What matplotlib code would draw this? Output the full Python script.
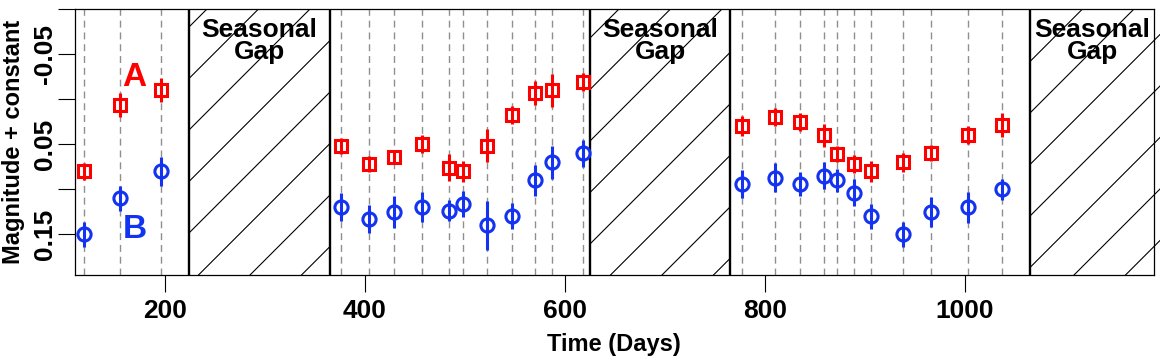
import numpy as np
import matplotlib
matplotlib.use("Agg")
import matplotlib.pyplot as plt
from matplotlib.collections import LineCollection
from matplotlib.transforms import IdentityTransform

# ---------------- data ----------------
epochs = [119, 155, 196,
          376, 404, 429, 457, 484, 498, 522, 547, 570, 587, 618,
          777, 810, 835, 859, 872, 889, 906, 938, 966, 1003, 1037]

mag_A = [0.080, 0.006, -0.010,
         0.0515, 0.072, 0.064, 0.050, 0.076, 0.080, 0.0515, 0.017, -0.007, -0.010, -0.0195,
         0.030, 0.020, 0.0255, 0.040, 0.061, 0.072, 0.080, 0.070, 0.060, 0.040, 0.0285]
err_A = [0.0094, 0.0133, 0.0133,
         0.009, 0.009, 0.008, 0.010, 0.015, 0.012, 0.018, 0.010, 0.013, 0.018, 0.010,
         0.011, 0.010, 0.010, 0.013, 0.009, 0.010, 0.012, 0.0105, 0.009, 0.010, 0.013]

mag_B = [0.150, 0.110, 0.080,
         0.120, 0.133, 0.125, 0.120, 0.124, 0.116, 0.140, 0.130, 0.090, 0.070, 0.060,
         0.094, 0.087, 0.094, 0.085, 0.090, 0.104, 0.130, 0.150, 0.125, 0.120, 0.100]
err_B = [0.014, 0.0137, 0.016,
         0.0155, 0.0155, 0.018, 0.0167, 0.0117, 0.0145, 0.0275, 0.0145, 0.017, 0.0185, 0.015,
         0.0155, 0.016, 0.013, 0.015, 0.013, 0.015, 0.014, 0.014, 0.017, 0.017, 0.012]

gaps = [(224, 365), (625, 765), (1065, 1260)]
gap_text = ["Seasonal", "Gap"]
xticks = [200, 400, 600, 800, 1000]
yticks = [-0.10, -0.05, 0.0, 0.05, 0.10, 0.15]
ytick_labels = ["", "-0.05", "", "0.05", "", "0.15"]
xlabel = "Time (Days)"
ylabel = "Magnitude + constant"

RED = "#FF0000"
BLUE = "#1433F0"

plt.rcParams["font.family"] = ["Liberation Sans", "DejaVu Sans"]
plt.rcParams["font.weight"] = "bold"

W, H = 1160, 359
fig = plt.figure(figsize=(W / 100, H / 100), dpi=100)
L, R, T, B = 75, 1154, 9.3, 275
ax = fig.add_axes([L / W, 1 - B / H, (R - L) / W, (B - T) / H])
xlim = (110, 1189)
ax.set_xlim(*xlim)
ax.set_ylim(0.1952, -0.1)

# dashed epoch lines
for e in epochs:
    ax.axvline(e, color="#8f8f8f", lw=1.0, dashes=(5, 3.5), zorder=1)

# gaps with hatching
fig.canvas.draw()
for (g0, g1) in gaps:
    span = ax.axvspan(g0, g1, facecolor="white", edgecolor="none", zorder=2)
    segs = []
    for k in range(-10, 40):
        c = 216 + 51.5 * k
        xs = np.array([-100.0, W + 400.0])
        ys = xs + H - c
        segs.append(list(zip(xs, ys)))
    lc = LineCollection(segs, colors="black", linewidths=0.8,
                        transform=IdentityTransform(), zorder=2.5)
    ax.add_collection(lc, autolim=False)
    lc.set_clip_path(span)
    for gx in (g0, g1):
        if xlim[0] < gx < xlim[1]:
            ax.axvline(gx, color="black", lw=1.7, zorder=3)
    cx = (max(g0, xlim[0]) + min(g1, xlim[1])) / 2
    ax.text(cx, -0.0696, gap_text[0], ha="center", va="baseline",
            fontsize=19, fontweight="bold", zorder=5)
    ax.text(cx, -0.0444, gap_text[1], ha="center", va="baseline",
            fontsize=19, fontweight="bold", zorder=5)

# data
ax.errorbar(epochs, mag_A, yerr=err_A, fmt="s", ms=9, mfc="none", mec=RED,
            mew=2.2, ecolor=RED, elinewidth=2.2, capsize=0, zorder=4)
ax.errorbar(epochs, mag_B, yerr=err_B, fmt="o", ms=9.5, mfc="none", mec=BLUE,
            mew=2.2, ecolor=BLUE, elinewidth=2.2, capsize=0, zorder=4)

ax.text(169, -0.0148, "A", color=RED, fontsize=24, fontweight="bold",
        ha="center", va="baseline", zorder=5)
ax.text(170, 0.1544, "B", color=BLUE, fontsize=24, fontweight="bold",
        ha="center", va="baseline", zorder=5)

# axes styling
for s in ax.spines.values():
    s.set_linewidth(0.9)
    s.set_color("black")
    s.set_zorder(6)
ax.set_xticks(xticks)
ax.set_xticklabels([str(t) for t in xticks])
ax.set_yticks(yticks)
ax.set_yticklabels(ytick_labels)
ax.tick_params(axis="both", direction="out", length=12.5, width=0.8,
               labelsize=19, color="black")
ax.tick_params(axis="x", pad=4.5)
ax.tick_params(axis="y", pad=0.5)
for lbl in ax.get_yticklabels():
    lbl.set_rotation(90)
    lbl.set_va("center")
    lbl.set_fontweight("bold")
for lbl in ax.get_xticklabels():
    lbl.set_fontweight("bold")

fig.text(20 / W, 1 - 141.5 / H, ylabel, rotation=90, rotation_mode="anchor",
         ha="center", va="baseline", fontsize=17, fontweight="bold")
fig.text(614 / W, 1 - 351 / H, xlabel, ha="center", va="baseline",
         fontsize=17, fontweight="bold")

fig.savefig("out.png", dpi=100)
